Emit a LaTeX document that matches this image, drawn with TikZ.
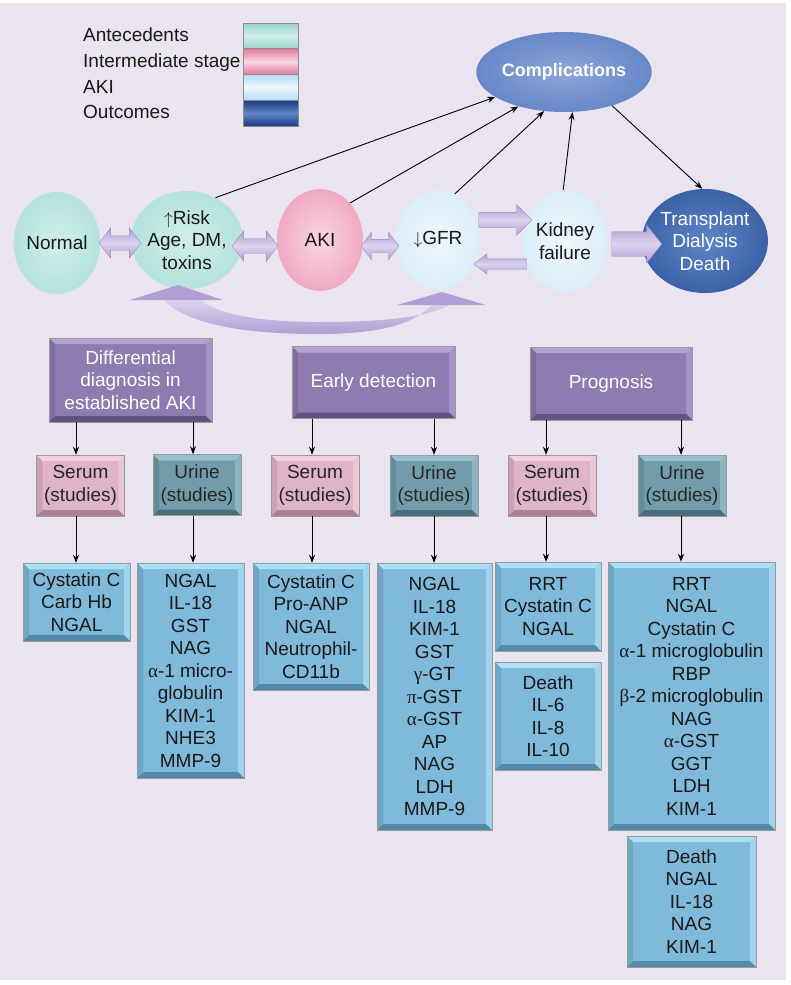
\documentclass[tikz,border=0pt]{standalone}
\usepackage{fontspec}
\setmainfont{Liberation Sans}
\newfontfamily\grk{Liberation Serif}
\usetikzlibrary{shapes.geometric,shapes.arrows,arrows.meta}

\definecolor{bg}{RGB}{233,228,240}
\definecolor{purM}{RGB}{142,123,176}
\definecolor{purT}{RGB}{180,162,208}
\definecolor{purR}{RGB}{165,148,196}
\definecolor{purB}{RGB}{98,82,130}
\definecolor{purL}{RGB}{125,107,160}
\definecolor{serM}{RGB}{222,180,198}
\definecolor{serT}{RGB}{240,210,222}
\definecolor{serR}{RGB}{232,198,212}
\definecolor{serB}{RGB}{172,128,148}
\definecolor{serL}{RGB}{205,160,180}
\definecolor{uriM}{RGB}{114,156,170}
\definecolor{uriT}{RGB}{152,192,204}
\definecolor{uriR}{RGB}{140,180,192}
\definecolor{uriB}{RGB}{72,110,124}
\definecolor{uriL}{RGB}{98,140,154}
\definecolor{bluM}{RGB}{128,186,218}
\definecolor{bluT}{RGB}{172,224,244}
\definecolor{bluR}{RGB}{160,212,236}
\definecolor{bluB}{RGB}{84,136,168}
\definecolor{bluL}{RGB}{110,166,198}
\definecolor{tealIn}{RGB}{208,238,234}
\definecolor{tealMid}{RGB}{176,224,218}
\definecolor{tealOut}{RGB}{150,212,204}
\definecolor{pinkIn}{RGB}{250,214,226}
\definecolor{pinkMid}{RGB}{238,160,188}
\definecolor{pinkOut}{RGB}{226,120,158}
\definecolor{lbIn}{RGB}{238,247,252}
\definecolor{lbMid}{RGB}{214,236,248}
\definecolor{lbOut}{RGB}{182,220,242}
\definecolor{dbIn}{RGB}{96,132,196}
\definecolor{dbMid}{RGB}{52,92,162}
\definecolor{dbOut}{RGB}{24,60,132}
\definecolor{cbIn}{RGB}{140,166,216}
\definecolor{cbMid}{RGB}{96,130,196}
\definecolor{cbOut}{RGB}{50,90,166}
\definecolor{lavL}{RGB}{220,211,239}
\definecolor{lavE}{RGB}{176,158,212}

\pgfdeclareradialshading{tealball}{\pgfpoint{0bp}{0bp}}{color(0bp)=(tealIn); color(30bp)=(tealMid); color(50bp)=(tealOut)}
\pgfdeclareradialshading{pinkball}{\pgfpoint{0bp}{0bp}}{color(0bp)=(pinkIn); color(30bp)=(pinkMid); color(50bp)=(pinkOut)}
\pgfdeclareradialshading{lbball}{\pgfpoint{0bp}{0bp}}{color(0bp)=(lbIn); color(32bp)=(lbMid); color(50bp)=(lbOut)}
\pgfdeclareradialshading{dbball}{\pgfpoint{0bp}{0bp}}{color(0bp)=(dbIn); color(30bp)=(dbMid); color(50bp)=(dbOut)}
\pgfdeclareradialshading{cbball}{\pgfpoint{0bp}{0bp}}{color(0bp)=(cbIn); color(30bp)=(cbMid); color(50bp)=(cbOut)}

\newcommand{\myfs}{\fontsize{19}{22.5}\selectfont}
\newlength{\bevw}\setlength{\bevw}{6pt}

\tikzset{
  bevel/.style n args={5}{fill=#1, path picture={
    \fill[#2] (path picture bounding box.north west) -- (path picture bounding box.north east)
      -- ([xshift=-\bevw,yshift=-\bevw]path picture bounding box.north east)
      -- ([xshift=\bevw,yshift=-\bevw]path picture bounding box.north west) -- cycle;
    \fill[#3] (path picture bounding box.north east) -- (path picture bounding box.south east)
      -- ([xshift=-\bevw,yshift=\bevw]path picture bounding box.south east)
      -- ([xshift=-\bevw,yshift=-\bevw]path picture bounding box.north east) -- cycle;
    \fill[#4] (path picture bounding box.south east) -- (path picture bounding box.south west)
      -- ([xshift=\bevw,yshift=\bevw]path picture bounding box.south west)
      -- ([xshift=-\bevw,yshift=\bevw]path picture bounding box.south east) -- cycle;
    \fill[#5] (path picture bounding box.south west) -- (path picture bounding box.north west)
      -- ([xshift=\bevw,yshift=-\bevw]path picture bounding box.north west)
      -- ([xshift=\bevw,yshift=\bevw]path picture bounding box.south west) -- cycle;
  }},
  box/.style={rectangle, inner sep=0pt, align=center, font=\myfs, draw=black!40, line width=0.4pt},
  purp/.style={box, bevel={purM}{purT}{purR}{purB}{purL}, text=white},
  serum/.style={box, bevel={serM}{serT}{serR}{serB}{serL}, text=black!85, minimum width=88pt, minimum height=61pt},
  urine/.style={box, bevel={uriM}{uriT}{uriR}{uriB}{uriL}, text=black!85, minimum width=88pt, minimum height=61pt},
  blu/.style={box, bevel={bluM}{bluT}{bluR}{bluB}{bluL}, text=black!90},
  circ/.style={ellipse, inner sep=0pt, align=center, font=\myfs, text=black!90},
  leg/.style={font=\myfs, text=black!90, inner sep=0pt},
  sw/.style={rectangle, inner sep=0pt, minimum width=55pt, minimum height=25.75pt, draw=black!45, line width=0.5pt},
  con/.style={black, line width=0.9pt, -{Stealth[length=8pt,width=6pt]}},
  fat/.style={inner xsep=0pt, top color=lavE, bottom color=lavE, middle color=lavL, draw=lavE!85!black, line width=0.3pt},
  darr/.style={fat, double arrow, double arrow tip angle=105},
  sarr/.style={fat, single arrow},
}

\begin{document}
\begin{tikzpicture}[x=1pt,y=-1pt]
\useasboundingbox (0,0) rectangle (791,985);
\fill[white] (0,0) rectangle (791,985);
\fill[bg] (0,3) rectangle (786,980);

% legend
\node[leg, anchor=base west] (l1) at (83,41) {Antecedents};
\node[leg, anchor=base west] (l2) at (83,67) {Intermediate stage};
\node[leg, anchor=base west] (l3) at (83,93) {AKI};
\node[leg, anchor=base west] (l4) at (83,118) {Outcomes};
\node[sw, top color=tealOut, bottom color=tealOut, middle color=tealIn] (s1) at (270.5,35.9) {};
\node[sw, top color=pinkOut, bottom color=pinkOut, middle color=pinkIn] (s2) at (270.5,61.6) {};
\node[sw, top color=lbOut, bottom color=lbOut, middle color=lbIn] (s3) at (270.5,87.4) {};
\node[sw, top color=dbOut, bottom color=dbOut, middle color=dbIn] (s4) at (270.5,113.1) {};

% complications
\node[ellipse, inner sep=0pt, minimum width=152pt, minimum height=80pt, shade, shading=cbball,
      font=\fontsize{18}{21}\selectfont\bfseries, text=white] (comp) at (564,72) {Complications};

% circles
\node[circ, minimum width=86pt, minimum height=102pt, shade, shading=tealball] (normal) at (57,243) {Normal};
\node[circ, minimum width=94pt, minimum height=98pt, shade, shading=tealball] (risk) at (187,240) {$\uparrow$Risk\\Age, DM,\\toxins};
\node[circ, minimum width=86pt, minimum height=102pt, shade, shading=pinkball] (aki) at (320,240) {AKI};
\node[circ, minimum width=84pt, minimum height=100pt, shade, shading=lbball] (gfr) at (438,240) {$\downarrow$GFR};
\node[circ, minimum width=86pt, minimum height=102pt, shade, shading=lbball] (kid) at (565,241) {Kidney\\failure};
\node[circ, minimum width=104pt, minimum height=104pt, shade, shading=dbball, text=white] (trans) at (705,241) {Transplant\\Dialysis\\Death};

% fat arrows between circles
\node[darr, minimum height=42pt, inner ysep=7pt, double arrow head extend=8pt] (da1) at (120,243) {};
\node[darr, minimum height=46pt, inner ysep=7pt, double arrow head extend=8pt] (da2) at (255,246) {};
\node[darr, minimum height=38pt, inner ysep=6.5pt, double arrow head extend=7pt] (da3) at (380,246) {};
\node[sarr, minimum height=53pt, inner ysep=7.5pt, single arrow head extend=7.5pt, single arrow tip angle=90] (sa1) at (501.5,220) {};
\node[sarr, minimum height=53pt, inner ysep=5pt, single arrow head extend=5pt, single arrow tip angle=75, shape border rotate=180] (sa2) at (503.5,264) {};
\node[sarr, minimum height=50pt, inner ysep=12pt, single arrow head extend=7pt, single arrow tip angle=103] (sa3) at (632,244) {};

% curved return arrow
\shade[top color=lavL, bottom color=lavE] (163,300) .. controls (190,326) and (250,334) .. (318,334)
  .. controls (380,334) and (415,324) .. (433,304) -- (452,304)
  .. controls (425,318) and (380,322) .. (318,322)
  .. controls (258,322) and (218,314) .. (200,300) -- cycle;
\fill[lavE] (130,300) -- (178,285) -- (223,300) -- cycle;
\fill[lavE] (397,305) -- (442,292) -- (486,305) -- cycle;

% connectors to complications
\draw[con] (risk.56) -- (comp.200);
\draw[con] (aki.51) -- (comp.217);
\draw[con] (gfr.70) -- (comp.243);
\draw[con] (kid.92) -- (comp.282);
\draw[con] (comp.325) -- (trans.93);

% purple boxes
\node[purp, minimum width=163pt, minimum height=84pt] (diff) at (130.5,380) {Differential\\diagnosis in\\established AKI};
\node[purp, minimum width=163pt, minimum height=72pt] (early) at (373.5,382.5) {Early detection};
\node[purp, minimum width=162pt, minimum height=73pt] (prog) at (611,383.5) {Prognosis};

% serum / urine
\node[serum] (se1) at (80.5,485.5) {Serum\\(studies)};
\node[urine] (ur1) at (197,485) {Urine\\(studies)};
\node[serum] (se2) at (315,485.5) {Serum\\(studies)};
\node[urine] (ur2) at (434,485.5) {Urine\\(studies)};
\node[serum] (se3) at (552,485.5) {Serum\\(studies)};
\node[urine] (ur3) at (682,485.5) {Urine\\(studies)};

% result boxes
\node[blu, minimum width=107pt, minimum height=78pt] (bA) at (76.5,602) {Cystatin C\\Carb Hb\\NGAL};
\node[blu, minimum width=107pt, minimum height=215pt] (bB) at (190.5,670.5) {NGAL\\IL-18\\GST\\NAG\\{\grk α}-1 micro-\\globulin\\KIM-1\\NHE3\\MMP-9};
\node[blu, minimum width=116pt, minimum height=127pt] (bC) at (311,626.5) {Cystatin C\\Pro-ANP\\NGAL\\Neutrophil-\\CD11b};
\node[blu, minimum width=115pt, minimum height=267pt] (bD) at (434.5,696.5) {NGAL\\IL-18\\KIM-1\\GST\\{\grk γ}-GT\\{\grk π}-GST\\{\grk α}-GST\\AP\\NAG\\LDH\\MMP-9};
\node[blu, minimum width=106pt, minimum height=89pt] (bE) at (548,606.5) {RRT\\Cystatin C\\NGAL};
\node[blu, minimum width=106pt, minimum height=108pt] (bF) at (548,716) {Death\\IL-6\\IL-8\\IL-10};
\node[blu, minimum width=167pt, minimum height=268pt] (bG) at (691.5,696) {RRT\\NGAL\\Cystatin C\\{\grk α}-1 microglobulin\\RBP\\{\grk β}-2 microglobulin\\NAG\\{\grk α}-GST\\GGT\\LDH\\KIM-1};
\node[blu, minimum width=129pt, minimum height=131pt] (bH) at (691.5,901.5) {Death\\NGAL\\IL-18\\NAG\\KIM-1};

% arrow columns
\coordinate (c1) at (76,0);
\coordinate (c2) at (193,0);
\coordinate (c3) at (312,0);
\coordinate (c4) at (434,0);
\coordinate (c5) at (546,0);
\coordinate (c6) at (681,0);

\draw[con] (diff.south -| c1) -- (se1.north -| c1);
\draw[con] (diff.south -| c2) -- (ur1.north -| c2);
\draw[con] (early.south -| c3) -- (se2.north -| c3);
\draw[con] (early.south -| c4) -- (ur2.north -| c4);
\draw[con] (prog.south -| c5) -- (se3.north -| c5);
\draw[con] (prog.south -| c6) -- (ur3.north -| c6);

\draw[con] (se1.south -| c1) -- (bA.north -| c1);
\draw[con] (ur1.south -| c2) -- (bB.north -| c2);
\draw[con] (se2.south -| c3) -- (bC.north -| c3);
\draw[con] (ur2.south -| c4) -- (bD.north -| c4);
\draw[con] (se3.south -| c5) -- (bE.north -| c5);
\draw[con] (ur3.south -| c6) -- (bG.north -| c6);
\end{tikzpicture}
\end{document}
